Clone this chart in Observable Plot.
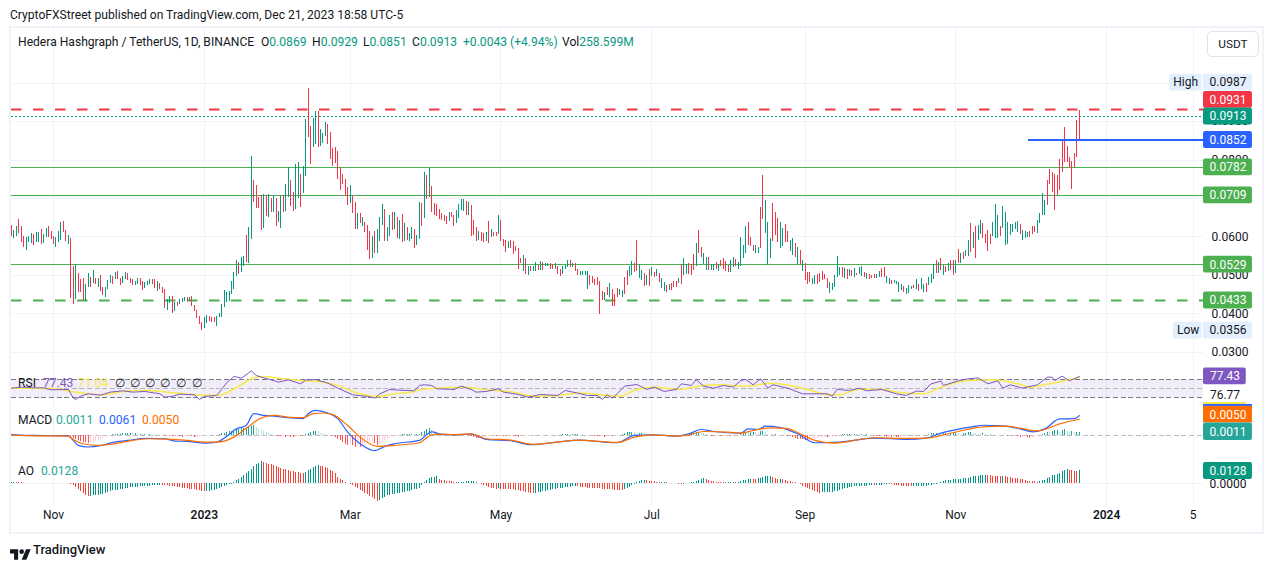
<!DOCTYPE html>
<html><head><meta charset="utf-8">
<script src="https://cdn.jsdelivr.net/npm/d3@7"></script>
<script src="https://cdn.jsdelivr.net/npm/@observablehq/plot@0.6"></script>
<style>
html,body{margin:0;padding:0;background:#fff;width:1273px;height:568px;overflow:hidden;font-family:Roboto,sans-serif;color:#131722}
#frame{position:absolute;left:9px;top:26px;width:1251px;height:504px;border:2px solid #f0f3fa;}
.pane{position:absolute;left:0}
.pane svg{display:block;background:transparent;overflow:visible}
.t{position:absolute;white-space:pre;line-height:16px;font-size:12.1px}
#usdt{position:absolute;left:1207px;top:31px;width:50px;height:24px;border:1px solid #e0e3eb;border-radius:5px;text-align:center;line-height:24px;font-size:11.8px;background:#fff}
</style></head><body>
<div id="frame"></div>
<div id="root"></div>
<script>
// Candle highs and lows, in units of 0.0001 USDT, one per day from 15 Oct 2022
const highs=[630,617,627,645,627,601,599,601,609,606,612,612,619,606,622,627,614,601,599,614,638,640,617,604,596,523,529,505,490,492,477,505,495,513,492,492,500,469,469,487,500,497,508,510,492,497,508,505,492,490,484,492,492,484,482,484,490,490,490,484,479,469,464,438,445,445,430,430,438,440,443,443,443,445,422,409,393,378,391,396,393,391,391,393,401,425,461,456,458,484,508,539,534,547,549,604,625,809,747,734,703,708,710,708,710,700,708,700,666,705,708,736,780,747,716,788,793,762,783,905,986,887,908,926,926,879,869,897,892,871,830,832,822,780,762,749,729,734,708,690,661,661,651,638,630,614,601,614,619,651,684,671,625,656,664,664,651,643,658,635,625,609,625,619,604,690,687,767,760,778,731,687,684,671,661,656,653,664,664,656,669,684,697,697,692,690,682,643,625,614,612,609,612,640,619,612,612,656,643,593,591,588,591,588,575,570,544,552,544,523,523,523,534,526,536,534,531,531,531,529,531,523,516,523,526,539,539,531,531,516,510,510,510,510,500,497,490,495,484,458,456,469,479,464,451,466,464,461,495,513,523,536,531,591,529,513,505,500,516,521,508,516,505,492,482,474,477,479,484,484,492,529,544,529,531,529,555,583,617,573,557,547,547,529,529,534,529,539,544,536,526,539,547,542,534,599,578,627,638,599,578,578,573,677,760,695,638,596,687,664,648,638,622,632,614,591,596,583,573,565,539,531,508,508,492,500,503,505,510,503,492,482,479,500,549,521,521,518,516,516,513,518,505,521,523,508,505,503,500,503,503,510,518,521,497,492,487,487,484,482,477,471,466,474,471,474,490,477,492,477,479,495,503,529,539,534,544,526,523,531,539,539,539,567,557,560,565,591,635,612,627,630,643,635,606,617,606,638,684,656,627,679,664,638,632,632,638,640,632,617,614,612,614,627,627,643,661,713,695,747,775,767,762,760,801,851,884,835,806,796,817,902,929];
const lows=[601,596,601,609,586,573,565,586,583,578,586,586,580,583,599,599,593,580,573,586,591,612,588,580,440,425,438,456,456,435,432,469,469,479,477,469,458,448,443,464,479,477,490,490,474,479,490,487,479,474,474,477,474,461,466,474,477,477,466,458,464,453,414,409,427,401,406,419,425,430,432,432,432,419,406,388,373,357,362,375,380,378,378,367,391,391,417,430,432,451,464,497,503,508,523,534,531,593,690,674,674,617,622,653,651,664,664,627,638,622,664,666,703,679,666,671,700,677,713,757,858,788,832,840,832,835,843,861,840,801,783,791,749,721,736,705,682,687,661,619,619,635,627,612,565,542,544,557,557,588,630,588,588,601,617,619,596,593,586,588,591,588,593,570,578,593,627,648,697,703,664,656,653,645,643,640,632,640,651,627,635,648,669,666,656,656,601,604,588,591,588,586,588,583,599,601,601,606,588,575,560,570,570,555,562,516,531,510,503,500,510,510,510,513,513,513,523,523,516,516,516,503,497,503,516,521,521,521,510,500,500,500,500,464,474,479,474,474,399,435,435,448,443,419,419,443,448,443,451,474,497,500,508,510,492,487,471,474,471,497,495,497,482,466,458,456,461,461,469,469,479,477,500,503,503,500,513,523,557,547,529,513,513,513,513,516,510,523,516,510,508,508,521,523,516,523,544,557,578,575,562,557,557,570,645,609,526,544,588,604,586,570,575,586,586,562,552,547,529,529,510,487,477,482,477,477,477,482,487,490,466,453,461,469,495,500,495,492,490,497,497,495,500,503,497,495,490,490,492,492,492,495,495,495,479,477,477,479,477,456,461,456,451,453,464,466,464,458,464,456,456,474,479,490,505,505,513,500,508,510,513,500,505,531,531,542,549,549,560,570,544,591,606,596,583,562,580,601,596,596,601,622,578,580,604,612,619,612,606,591,596,599,599,606,612,609,635,656,656,682,736,716,669,708,721,767,793,793,778,723,780,806,851];
const dirs="RGGRRRGGGRGGRGGRRRGGGRRGRRGRRRGGRGRGRRGGGRGRRGGRRRGGRRGGGRRGRRRGGRGRGGGRGRRRRRGGRRRGGGGGGGGGRGGRGGRRRRGRGRGRGGRGGRRGGRGGRRGGRGGGRRRRRRRRRGRRGRGRRRGRGGGRGGRGRGRGRGGRGGRGRGRRRRRRRGRRGGGGRGRRRGRRGRGRRGRRRGRRRRRGRGRGGRGRGGRRGRRGGGRGRRGGGGRRRRRRGRGRRRGGRRGGRRGGRGRGRGRGGRGRRRGRGGRRRGRRGGRGGRGRRRRGGRGGGGRRRGGRRGGGRRRGGRRGGRGRGRRRGGRRRRRGGGGGRGRGRGRGGRGRRRGGRRGGRGGGGRGGGRGRGGRGGGRGRGRGRRGRGRGGRGRGGRRRRGGGRGGGGGGGRGGGRRRGGGG";
const legendOHLC=[["O","0.0869",261],["H","0.0929",312],["L","0.0851",363],["C","0.0913",412]];

// RSI line and its moving average: day indexes and values
const rsiDays=[0,4,9,13,16,23,25,26,28,31,36,40,45,49,54,60,62,65,68,74,76,78,83,85,87,90,93,96,97,99,102,106,108,112,117,119,123,128,132,138,144,147,149,153,157,163,165,167,170,172,179,182,186,188,192,197,199,205,209,214,221,224,229,233,237,239,241,243,245,248,253,257,260,264,269,271,275,277,280,284,288,292,295,297,300,303,306,308,314,320,330,332,334,339,343,346,352,358,362,366,369,372,376,377,383,387,391,395,399,401,404,409,415,419,421,422,425,428,432];
const rsiVals=[51.5,53.7,52.2,52.2,47.8,48.5,29.3,26.3,33.7,38.9,35.9,42.6,45.6,42.6,44.1,38.9,31.5,33,38.1,36.7,26.3,33,35.2,48.5,63.3,77.4,73.7,85.6,90,79.6,74.4,68.5,64.8,70,61.1,69.3,70.7,62.6,51.5,36.7,33,29.3,38.9,48.5,47,45.6,57.4,58.9,57.4,50,48.5,55.9,48.5,42.6,44.1,50,42.6,37.4,31.5,37.4,35.2,46.3,40.4,35.2,35.2,26.3,36.7,29.3,38.9,55.9,59.6,48.5,53.7,44.1,48.5,61.1,57.4,70,55.9,51.5,57.4,53.7,68.5,70.7,58.9,72.2,51.5,58.9,51.5,38.9,38.9,33.7,48.5,46.3,51.5,45.6,48.5,38.9,35.2,44.8,44.1,61.1,67,57.4,67.8,72.2,74.4,61.1,67.8,51.5,58.9,51.5,58.9,75.9,75.9,68.5,78.1,67.8,77.43];
const maDays=[0,9,18,24,31,37,45,54,63,74,83,87,93,99,103,110,117,126,133,138,144,148,155,163,165,172,183,192,203,211,221,230,238,246,253,260,269,280,287,297,307,315,322,331,335,342,352,360,369,376,387,397,407,412,419,427,432];
const maVals=[51.5,51.5,50,44,38.9,36.7,44,46.3,42.6,36.7,35.2,41,59.6,76,76.7,72.2,68.5,64.8,55.9,44,35.2,33,38.9,44,48,51.5,53.7,47.8,42.6,33.7,35.2,40.4,36.7,33.7,48.5,53.7,48.5,57.4,58.9,55.9,62.6,57.4,48.5,36.7,36.7,48.5,48.5,41,38.9,53.7,68.5,70,61.1,53.7,60.4,69.3,75];

// MACD lines and histogram, in units of 0.001
const macdDays=[0,9,23,25,27,31,36,41,47,55,62,66,71,78,83,87,91,95,98,102,107,113,118,120,123,128,132,136,141,147,151,155,165,170,174,179,186,192,202,210,220,230,238,245,252,260,268,274,279,284,295,298,302,305,311,318,325,335,349,362,370,376,389,393,402,408,413,418,424,430,432];
const macdVals=[0.4,0.1,0,-1.4,-2.9,-3.4,-3,-2,-1.4,-0.8,-0.9,-1.6,-1.7,-2.2,-1.9,-0.2,2.1,3.2,6.7,6.2,5.9,5.4,5.2,6.7,7.7,6.9,5.2,1.1,-2.4,-4.5,-3.2,-2.4,-1.4,1.2,0.4,0.3,0.5,-1.1,-1.5,-2.7,-2,-1.3,-1.8,-2.1,0.1,0.3,-0.1,0.6,1.9,1.3,0.8,2.1,1.9,2.9,2.5,0.6,-2.1,-1.9,-0.7,-1.1,-0.7,0.8,2.8,3.2,2.9,2.1,1.2,2.1,5.1,5.2,6.1];
const signalDays=[0,9,23,25,29,35,41,49,56,63,71,78,83,90,95,101,106,113,118,122,126,130,136,141,148,155,165,170,174,179,186,192,202,211,220,230,238,245,252,260,268,274,280,290,295,300,307,314,319,325,333,349,362,370,381,393,402,408,415,424,432];
const signalVals=[0.2,0,-0.1,-1.1,-2.4,-2.9,-2.5,-1.4,-0.9,-1,-1.4,-1.9,-1.9,-0.4,2.3,5.4,6.2,5.6,5.5,6.7,6.9,6.4,3.1,-0.4,-3.2,-2.9,-2.1,0.3,0.5,0.3,0.6,-0.9,-1.3,-2.6,-2,-1.3,-1.7,-2,-0.4,0.3,-0.1,0.3,1.3,1.1,0.8,1.6,2.4,2.2,0.6,-1.4,-2.2,-0.6,-0.8,-0.7,1,2.7,2.9,2.3,1.5,3.6,5];
const histVals=[0.1,0.1,0.1,0.1,0.1,0.05,0,0,-0.05,0,0.05,0.1,0.1,0.05,0,-0.05,-0.05,0,0.05,0.05,0.1,0.05,0,-0.1,-0.2,-0.8,-1.2,-1.5,-1.8,-2,-2.1,-2.3,-2.2,-1.9,-1.6,-1.3,-1,-0.7,-0.5,-0.3,0.1,0.3,0.4,0.5,0.5,0.6,0.6,0.7,0.7,0.6,0.6,0.5,0.5,0.4,0.4,0.3,0.3,0.2,0.2,0.1,0.1,0,-0.1,-0.1,-0.2,-0.3,-0.3,-0.2,-0.3,-0.4,-0.3,-0.2,-0.1,-0.3,-0.5,-0.5,-0.4,-0.3,-0.2,-0.1,0,0.1,0.1,0.2,0.4,0.6,0.8,1,1.2,1.4,1.6,1.8,2,2.2,2.3,2.5,2.7,2.9,3,2.5,2,1.6,1.2,0.9,0.6,0.4,0.2,-0.1,-0.2,-0.3,-0.3,-0.4,-0.3,-0.4,-0.5,-0.4,-0.2,-0.3,0.2,0.5,0.8,1,1.2,1.4,1.2,0.8,0.6,0.4,0.2,0.1,0,-0.5,-1,-1.5,-2,-2.5,-3,-2.7,-3,-3.4,-3.2,-3.6,-3.2,-2.8,-2.4,-2,-1.6,-2.3,-3,-2.6,-2,-1.5,-1.1,-0.8,-0.5,-0.2,-0.1,0.1,0.3,0.4,0.5,0.5,0.5,0.4,0.5,0.5,1,1.4,1.8,2.1,1.6,1.2,0.9,0.6,0.4,0.3,0.2,0.1,0.1,0.2,0.3,0.3,0.4,0.2,0.1,0,-0.2,-0.5,-0.7,-0.8,-0.6,-0.4,-0.3,-0.2,-0.2,-0.1,-0.3,-0.2,-0.1,-0.2,-0.3,-0.2,-0.1,-0.2,-0.3,-0.4,-0.3,-0.2,-0.2,-0.1,-0.1,-0.1,0,0,0,0.1,0.1,0.1,0.1,0.05,0.05,0.1,0.2,0.3,0.4,0.4,0.3,0.3,0.4,0.5,0.4,0.3,0.2,0.1,0.1,0,-0.1,-0.2,-0.3,-0.2,-0.4,-0.3,-0.2,-0.3,-0.2,-0.1,0.1,0.4,0.7,1,1,1.1,0.9,0.7,0.8,0.8,0.6,0.5,0.4,0.3,0.3,0.2,0.1,0.1,0,-0.1,-0.1,-0.05,0,0.1,0.1,0.2,0.2,0.3,0.5,0.6,0.8,0.9,1,0.8,0.6,0.3,0.1,-0.1,-0.2,-0.2,-0.1,-0.2,-0.1,-0.1,0,-0.1,0,0.1,0.2,0.6,0.8,1,0.9,1,1.1,1,0.8,1.2,1.3,0.9,0.5,0.4,0.3,0.3,0.2,0.2,0.1,0.1,-0.1,-0.3,-0.6,-0.8,-1,-1.1,-1.2,-1.4,-1.5,-1.3,-1,-0.8,-0.7,-0.6,-0.5,-0.4,-0.5,-0.4,-0.4,-0.3,-0.2,0.1,0.3,0.4,0.5,0.5,0.4,0.5,0.4,0.3,0.3,0.2,0.3,0.2,0.1,0.1,-0.1,-0.2,-0.2,-0.3,-0.4,-0.4,-0.5,-0.3,-0.4,-0.5,-0.3,-0.3,-0.1,0.05,0.05,0.1,0.1,0.1,0.05,0.1,0.2,0.4,0.6,0.7,0.8,0.6,0.5,0.7,0.8,0.6,0.8,0.9,0.9,0.6,0.5,0.7,0.8,0.9,1,0.8,0.6,0.5,0.4,0.6,0.3,0.2,0.3,0.1,0.2,0.1,0.05,0.05,0.1,-0.2,-0.2,-0.3,-0.2,-0.3,-0.4,-0.4,-0.3,-0.6,-0.7,-0.5,-0.4,-0.3,0.2,0.5,0.8,1.1,0.9,1.3,1.5,1.7,1,1.6,1.8,1.3,1.1,1.2,0.9,0.9,1.1];

// Awesome Oscillator, in units of 0.001
const aoVals=[0.8,0.9,0.8,0.7,0.6,0.5,0.5,0.4,0.2,0.2,0.1,0.1,0.3,0.3,0.2,0.2,0.1,0.3,0.3,0.4,0.4,0.3,0.2,0.1,-0.5,-2,-4,-6,-8,-10,-12,-12.7,-12.6,-12.3,-12,-11.6,-11,-10.5,-9.5,-8.8,-8,-7.2,-6.8,-6.5,-6,-5.5,-5,-4.8,-4.4,-4,-3.8,-3.5,-3.2,-3,-2.8,-2.6,-2.5,-2.2,-2,-1.8,-1.5,-1.7,-2,-2.3,-2.7,-3,-3.4,-3.8,-4.2,-4.6,-5,-5.3,-5.7,-6,-6.3,-6.7,-7,-7.5,-8,-7.8,-7.5,-7,-6.5,-6,-5,-4,-3.2,-2.2,-1.2,-0.5,1.5,3,4.5,6,8,10,12,14,17,19,20.5,22,21,20,19.5,19,18,17,16,15.5,14.5,14,13,12.5,12,11.5,11,10.5,10.2,11.5,13,14.5,16,17,18,17.5,17,16,15,13.5,12,10.5,6,4.5,3,1.3,0.5,-1,-2,-3.5,-5,-6.5,-8,-9.5,-11,-12.5,-14,-16,-18,-17,-15,-13.5,-12,-11.5,-11,-10.5,-10,-9.5,-9,-8.5,-8,-7.5,-7,-6,-5.5,-5,-2,1,3,5,6,6.5,6.6,4,3,2.6,2.2,2,1.6,1.2,1,1,1.1,1.3,1.6,1.8,2,2.1,1,0.3,-0.5,-1.5,-3,-4,-5,-5.3,-5.5,-5.4,-5.5,-5.6,-5.8,-5.9,-6,-6.2,-6.5,-7,-7.5,-8,-8.5,-9,-9.5,-10,-9.5,-9,-8.5,-8,-7.5,-7,-6.5,-6,-5.5,-5,-4.8,-4.5,-4.2,-4,-3.8,-3.4,-3,-3.4,-3.7,-4,-4.3,-4.5,-4.6,-4.8,-5,-5.2,-5.4,-5.6,-5.8,-6,-6.2,-6.4,-6.6,-6.7,-6.8,-7,-6.2,-5,-3.5,-2,-0.5,1,2,3.2,3.4,3,2.5,2,1.6,1.3,1.1,1.2,1.2,1,0.5,0.3,0,-0.4,-0.8,-1,-0.8,-0.4,0.2,0.6,1.2,2,3,3.8,5,4.2,3,2.2,1.7,1.5,1.3,1.2,1.1,1,1,1.1,1.1,1,1.2,2,2.6,3.5,4.2,4.5,4.4,4,4.8,5.5,6.3,7,7,7,6,5,4.4,4.5,4,3,2.5,2,1.2,0.6,0.2,-1,-3,-4,-5,-6,-7,-8,-9,-9.6,-9.3,-9.2,-9,-8.8,-8.6,-8.4,-8.2,-7,-6,-5,-4.5,-4,-3.6,-3.4,-3.2,-3,-2.8,-2.8,-2.5,-2.3,-2.2,-2.3,-2,-1.8,-1.5,-1.3,-1,-1,-1.3,-1.6,-2,-2.4,-2.6,-2.8,-3,-3.2,-3.4,-3.3,-3.2,-3,-2.9,-2.8,-2.6,-2.4,-2,-1.4,-0.5,0.3,1.5,2.5,3,3.2,3.4,3.6,3.8,4,4.3,4.6,5,5.5,6,7,7.3,7.5,7.6,7.7,8,7.8,7.6,7.5,7.4,7.3,7.2,7.2,7,6.2,5.6,5.4,5,4.6,4.3,4,3.2,2.5,2.2,1.8,1.6,1.5,2,2.8,3.5,5,6.5,8,8.5,9,10.5,12,13,14.2,13.5,13,12.5,12.3,12.8];

// Price levels and price-axis badges
const priceTicks=[0.03,0.04,0.05,0.06,0.07,0.08,0.09,0.1];
const labelledTicks=[0.03,0.04,0.05,0.06,0.08,0.09];
const monthTicks=[[2022,10,1,"Nov"],[2023,2,1,"Mar"],[2023,4,1,"May"],[2023,6,1,"Jul"],[2023,8,1,"Sep"],[2023,10,1,"Nov"],[2024,1,5,"5"]];
const yearTicks=[[2023,0,1,"2023"],[2024,0,1,"2024"]];
const badges=[
 ["0.0987",0.1001,"#e3effd","#131722"],
 ["0.0931",0.0956,"#f23645","#fff"],
 ["0.0913",0.0913,"#089981","#fff"],
 ["0.0852",0.0852,"#2962ff","#fff"],
 ["0.0782",0.0781,"#4caf50","#fff"],
 ["0.0709",0.0708,"#4caf50","#fff"],
 ["0.0529",0.0528,"#4caf50","#fff"],
 ["0.0433",0.0435,"#4caf50","#fff"],
 ["0.0356",0.0357,"#e3effd","#131722"]];
const sideTags=[["High",0.1001],["Low",0.0357]];

const FONT='Roboto,sans-serif';
const FS=12;
const UP="#089981",DOWN="#f23645",GRID="#f0f3fa";
const day=i=>new Date(Date.UTC(2022,9,15)+i*864e5);
const xDomain=[day(0),day(482.2)];
const axisDate=d=>new Date(Date.UTC(d[0],d[1],d[2]));
const allTicks=[...monthTicks,...yearTicks].map(axisDate);
const W=1273,ML=11,MR=70;
const badgeX1=day(482.2),badgeX2=day(502),badgeMid=day(492.1),shortX2=day(499.5),shortMid=day(490.9);
const zip=(a,b)=>a.map((d,k)=>({x:day(d),v:b[k]}));

const candles=highs.map((h,i)=>({x:day(i),h:h/1e4,l:lows[i]/1e4,c:dirs[i]==="G"?UP:DOWN}));
const aoData=aoVals.map((v,i)=>({x:day(i),v,c:i===0||v>=aoVals[i-1]?"#009688":"#f44336"}));
const histData=histVals.map((v,i)=>{
  const rising=i===0||v>=histVals[i-1];
  return {x:day(i),v,c:v>=0?(rising?"#26a69a":"#b2dfdb"):(rising?"#ffcdd2":"#ff5252")};
});

const root=document.getElementById("root");
function pane(top,opts){
  const svg=Plot.plot({width:W,marginLeft:ML,marginRight:MR,marginTop:0,marginBottom:0,
    style:{fontFamily:FONT,fontSize:FS+"px",background:"transparent",color:"#131722"},
    color:{type:"identity"},x:{type:"utc",domain:xDomain,axis:null},...opts});
  const d=document.createElement("div");d.className="pane";d.style.top=top+"px";d.appendChild(svg);root.appendChild(d);
}
const vGrid=()=>Plot.ruleX(allTicks,{stroke:GRID,strokeWidth:1,shapeRendering:"crispEdges"});
const badgeH=8.4/3850;

// Main price pane
pane(27,{height:339,y:{domain:[0.02636,0.11442],axis:null},marks:[
  vGrid(),
  Plot.ruleY(priceTicks,{stroke:GRID,shapeRendering:"crispEdges"}),
  Plot.axisY(labelledTicks,{anchor:"right",tickSize:0,tickPadding:8,tickFormat:d3.format(".4f"),label:null,fontSize:FS}),
  Plot.ruleY([0.0781,0.0708,0.0528],{stroke:"#4caf50",strokeWidth:1,shapeRendering:"crispEdges"}),
  Plot.ruleY([0.0435],{stroke:"#4caf50",strokeWidth:2,strokeDasharray:"10.5,11.5"}),
  Plot.ruleY([0.0931],{stroke:"#f23645",strokeWidth:2,strokeDasharray:"10.5,11.5"}),
  Plot.ruleY([0.0913],{stroke:"#089981",strokeWidth:1,strokeDasharray:"2,2",shapeRendering:"crispEdges"}),
  Plot.ruleX(candles,{x:"x",y1:"l",y2:"h",stroke:"c",strokeWidth:1,shapeRendering:"crispEdges"}),
  Plot.ruleY([0.0852],{x1:day(411.4),x2:badgeX1,stroke:"#2962ff",strokeWidth:2}),
  Plot.rect(badges,{x1:()=>badgeX1,x2:()=>badgeX2,y1:d=>d[1]-badgeH,y2:d=>d[1]+badgeH,fill:d=>d[2],rx:2}),
  Plot.text(badges,{x:()=>badgeMid,y:d=>d[1],text:d=>d[0],fill:d=>d[3],fontSize:FS}),
  Plot.rect(sideTags,{x1:d=>day(d[0]==="High"?468.5:470),x2:()=>day(481.6),y1:d=>d[1]-badgeH,y2:d=>d[1]+badgeH,fill:"#e3effd",rx:2}),
  Plot.text(sideTags,{x:d=>day(d[0]==="High"?475:476),y:d=>d[1],text:d=>d[0],fill:"#131722",fontSize:FS})
]});

// RSI pane
pane(366,{height:38,y:{domain:[15.1,99.6],axis:null},marks:[
  vGrid(),
  Plot.rect([[70,30]],{x1:()=>day(0),x2:()=>badgeX1,y1:d=>d[1],y2:d=>d[0],fill:"#7e57c2",fillOpacity:0.1}),
  Plot.ruleY([70,30],{stroke:"#787b86",strokeDasharray:"5,2.6",shapeRendering:"crispEdges"}),
  Plot.ruleY([50],{stroke:"#787b86",strokeOpacity:0.5,strokeDasharray:"5,2.6",shapeRendering:"crispEdges"}),
  Plot.line(zip(maDays,maVals),{x:"x",y:"v",stroke:"#f7e948",strokeWidth:1.5,curve:"monotone-x"}),
  Plot.line(zip(rsiDays,rsiVals),{x:"x",y:"v",stroke:"#7e57c2",strokeWidth:1}),
  Plot.rect(["77.43"],{x1:()=>badgeX1,x2:()=>shortX2,y1:()=>77.5-18.5,y2:()=>77.5+18.5,fill:"#7e57c2",rx:2}),
  Plot.text(["77.43"],{x:()=>shortMid,y:()=>77.5,text:d=>d,fill:"#fff",fontSize:FS}),
  Plot.text(["76.77"],{x:()=>shortMid,y:()=>36,text:d=>d,fill:"#131722",fontSize:FS}),
  Plot.rect(["71.04"],{x1:()=>badgeX1,x2:()=>shortX2,y1:()=>15.1,y2:()=>19.5,fill:"#f7e948"})
]});

// MACD pane
pane(404,{height:51,y:{domain:[-5.97,9.48],axis:null},marks:[
  vGrid(),
  Plot.ruleY([0],{stroke:"#787b86",strokeOpacity:0.5,strokeDasharray:"5,2.6",shapeRendering:"crispEdges"}),
  Plot.ruleX(histData,{x:"x",y1:()=>0,y2:"v",stroke:"c",strokeWidth:1,shapeRendering:"crispEdges"}),
  Plot.line(zip(macdDays,macdVals),{x:"x",y:"v",stroke:"#2962ff",strokeWidth:1.2,curve:"monotone-x"}),
  Plot.line(zip(signalDays,signalVals),{x:"x",y:"v",stroke:"#ff6d00",strokeWidth:1.2,curve:"monotone-x"}),
  Plot.rect(["0.0061"],{x1:()=>badgeX1,x2:()=>badgeX2,y1:()=>8.9,y2:()=>9.48,fill:"#2962ff"}),
  Plot.rect(["0.0050"],{x1:()=>badgeX1,x2:()=>badgeX2,y1:()=>3.9,y2:()=>8.9,fill:"#ff6d00"}),
  Plot.rect(["0.0011"],{x1:()=>badgeX1,x2:()=>badgeX2,y1:()=>-1.45,y2:()=>3.85,fill:"#26a69a",rx:2}),
  Plot.text(["0.0050"],{x:()=>badgeMid,y:()=>6.4,text:d=>d,fill:"#fff",fontSize:FS}),
  Plot.text(["0.0011"],{x:()=>badgeMid,y:()=>1.2,text:d=>d,fill:"#fff",fontSize:FS})
]});

// AO pane with the shared date axis
pane(455,{height:77,marginBottom:27,y:{domain:[-22,28],axis:null},marks:[
  vGrid(),
  Plot.ruleY([0],{stroke:GRID,shapeRendering:"crispEdges"}),
  Plot.ruleX(aoData,{x:"x",y1:()=>0,y2:"v",stroke:"c",strokeWidth:1,shapeRendering:"crispEdges"}),
  Plot.rect(["0.0128"],{x1:()=>badgeX1,x2:()=>badgeX2,y1:()=>4,y2:()=>21,fill:"#089981",rx:2}),
  Plot.text(["0.0128"],{x:()=>badgeMid,y:()=>12.5,text:d=>d,fill:"#fff",fontSize:FS}),
  Plot.text(["0.0000"],{x:()=>badgeMid,y:()=>-0.5,text:d=>d,fill:"#131722",fontSize:FS}),
  Plot.text(monthTicks,{x:axisDate,text:d=>d[3],frameAnchor:"bottom",dy:13,fill:"#131722",fontSize:FS}),
  Plot.text(yearTicks,{x:axisDate,text:d=>d[3],frameAnchor:"bottom",dy:13,fill:"#131722",fontSize:FS,fontWeight:600})
]});

// Header, legends, footer
function t(left,top,html,extra){
  const e=document.createElement("div");e.className="t";e.style.left=left+"px";e.style.top=top+"px";e.innerHTML=html;
  if(extra)e.style.cssText+=extra;document.body.appendChild(e);return e;
}
const G=s=>`<span style="color:#089981">${s}</span>`;
t(10,7,"CryptoFXStreet published on TradingView.com, Dec 21, 2023 18:58 UTC-5");
t(18,34,"Hedera Hashgraph / TetherUS, 1D, BINANCE");
legendOHLC.forEach(d=>t(d[2],34,d[0]+G(d[1])));
t(463,34,G("+0.0043 (+4.94%)"));
t(562,34,"Vol"+G("258.599M"));
t(18,375,'RSI');
t(43,375,'<span style="color:#7e57c2">77.43</span>');
t(78,375,'<span style="color:#f7e948">71.04</span>');
[115,130,145,160,176,192].forEach(x=>t(x,375,"∅"));
t(18,412,'MACD');
t(56,412,'<span style="color:#26a69a">0.0011</span>');
t(99,412,'<span style="color:#2962ff">0.0061</span>');
t(142,412,'<span style="color:#ff6d00">0.0050</span>');
t(18,463,'AO');
t(41,463,'<span style="color:#26a69a">0.0128</span>');
const u=document.createElement("div");u.id="usdt";u.textContent="USDT";document.body.appendChild(u);
const logo=document.createElement("div");logo.style.cssText="position:absolute;left:10px;top:545px;width:21px;height:12px";
logo.innerHTML='<svg viewBox="0 0 36 20" width="21" height="12"><path d="M14 20H7V9H0V2h14v18zM28 20h-8l7.5-18h8L28 20z" fill="#131722"/><circle cx="20" cy="6" r="4" fill="#131722"/></svg>';
document.body.appendChild(logo);
t(33,542,"TradingView","font-weight:500;font-size:13px;");
</script>
</body></html>
